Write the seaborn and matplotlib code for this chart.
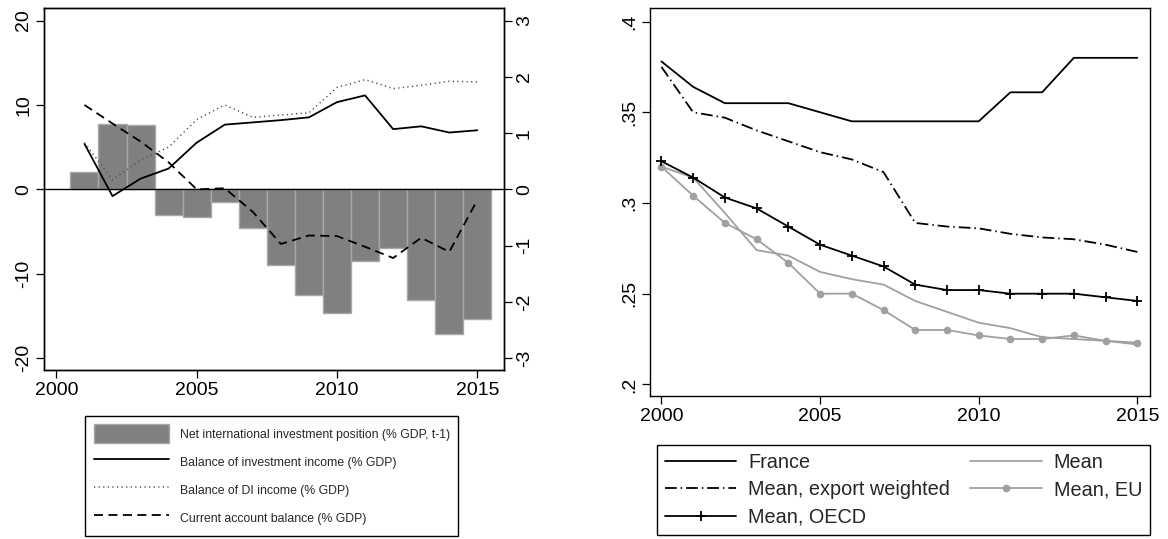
import matplotlib
matplotlib.use("Agg")
import matplotlib.pyplot as plt
from matplotlib.lines import Line2D
from matplotlib.patches import Patch
from matplotlib.ticker import FixedLocator, FixedFormatter
import seaborn as sns

# ---- data: external position panel (2001-2015) ----
years_ext = [2001, 2002, 2003, 2004, 2005, 2006, 2007, 2008,
             2009, 2010, 2011, 2012, 2013, 2014, 2015]
niip = [2.1, 7.8, 7.6, -3.0, -3.3, -1.5, -4.6, -9.0,
        -12.5, -14.6, -8.5, -6.9, -13.1, -17.1, -15.4]
inv_income = [0.81, -0.12, 0.19, 0.37, 0.83, 1.15, 1.19, 1.23,
              1.28, 1.55, 1.67, 1.07, 1.12, 1.01, 1.05]
di_income = [0.83, 0.17, 0.52, 0.75, 1.24, 1.50, 1.28, 1.32,
             1.36, 1.81, 1.95, 1.79, 1.85, 1.92, 1.91]
current_account = [1.50, 1.17, 0.85, 0.48, 0.00, 0.02, -0.40, -0.97,
                   -0.82, -0.83, -1.02, -1.22, -0.86, -1.11, -0.19]

left_ticks = [-20, -10, 0, 10, 20]
left_ticklabels = ["-20", "-10", "0", "10", "20"]
right_ticks = [-3, -2, -1, 0, 1, 2, 3]
right_ticklabels = ["-3", "-2", "-1", "0", "1", "2", "3"]

labels_ext = ["Net international investment position (% GDP, t-1)",
              "Balance of investment income (% GDP)",
              "Balance of DI income (% GDP)",
              "Current account balance (% GDP)"]

# ---- data: comparison panel (2000-2015) ----
years_cmp = list(range(2000, 2016))
france = [0.378, 0.364, 0.355, 0.355, 0.355, 0.350, 0.345, 0.345,
          0.345, 0.345, 0.345, 0.361, 0.361, 0.380, 0.380, 0.380]
mean_export_w = [0.375, 0.350, 0.347, 0.340, 0.334, 0.328, 0.324, 0.317,
                 0.289, 0.287, 0.286, 0.283, 0.281, 0.280, 0.277, 0.273]
mean_oecd = [0.323, 0.314, 0.303, 0.297, 0.287, 0.277, 0.271, 0.265,
             0.255, 0.252, 0.252, 0.250, 0.250, 0.250, 0.248, 0.246]
mean_all = [0.320, 0.314, 0.2945, 0.274, 0.271, 0.262, 0.258, 0.255,
            0.246, 0.240, 0.234, 0.231, 0.226, 0.225, 0.224, 0.222]
mean_eu = [0.320, 0.304, 0.289, 0.280, 0.267, 0.250, 0.250, 0.241,
           0.230, 0.230, 0.227, 0.225, 0.225, 0.227, 0.224, 0.223]

cmp_yticks = [0.2, 0.25, 0.3, 0.35, 0.4]
cmp_yticklabels = [".2", ".25", ".3", ".35", ".4"]
x_ticks = [2000, 2005, 2010, 2015]
x_ticklabels = ["2000", "2005", "2010", "2015"]

labels_cmp = ["France", "Mean, export weighted", "Mean, OECD",
              "Mean", "Mean, EU"]

# ---- style ----
sns.set_style("ticks")
plt.rcParams["font.family"] = ["Liberation Sans", "DejaVu Sans"]
plt.rcParams["axes.unicode_minus"] = False

BAR_FACE = "#808080"
BAR_EDGE = "#a8a8a8"
LIGHT = "#a0a0a0"
DOT_GREY = "#505050"
LW = 1.3
DASHED = (0, (5, 3))
DOTTED = (0, (0.8, 2.2))
DASHDOT = (0, (6.5, 2.2, 0.8, 2.2))
TICK_FS = 14
PLUS_KW = dict(marker="+", markersize=7, markeredgewidth=1.3,
               markeredgecolor="black")
DOT_KW = dict(marker="o", markersize=5.5, markeredgewidth=0,
              markerfacecolor=LIGHT)

W, H = 1168, 539
fig = plt.figure(figsize=(W / 100, H / 100), dpi=100)
ax1 = fig.add_axes([44.3 / W, 1 - 370 / H, 459.7 / W, 361.7 / H])
ax2 = fig.add_axes([650 / W, 1 - 396 / H, 500 / W, 387.7 / H])


def style_axis(ax):
    for sp in ax.spines.values():
        sp.set_visible(True)
        sp.set_color("black")
        sp.set_linewidth(1.0)
    ax.tick_params(direction="out", length=5.5, width=0.9, colors="black",
                   labelsize=TICK_FS, pad=3)
    ax.set_xlabel("")
    ax.set_ylabel("")


# ---- external position panel ----
sns.barplot(x=years_ext, y=niip, native_scale=True, width=1.0,
            color=BAR_FACE, saturation=1, edgecolor=BAR_EDGE, linewidth=1.0,
            errorbar=None, ax=ax1, zorder=2)
ax1.axhline(0, color="black", lw=1.0, zorder=3)
ax1.set_xlim(1999.57, 2015.95)
ax1.set_ylim(-21.4, 21.45)
ax1.xaxis.set_major_locator(FixedLocator(x_ticks))
ax1.xaxis.set_major_formatter(FixedFormatter(x_ticklabels))
ax1.yaxis.set_major_locator(FixedLocator(left_ticks))
ax1.yaxis.set_major_formatter(FixedFormatter(left_ticklabels))
style_axis(ax1)
plt.setp(ax1.get_yticklabels(), rotation=90, va="center")

ax1r = ax1.twinx()
sns.lineplot(x=years_ext, y=inv_income, ax=ax1r, color="black", lw=LW)
sns.lineplot(x=years_ext, y=di_income, ax=ax1r, color=DOT_GREY, lw=1.1,
             linestyle=DOTTED)
sns.lineplot(x=years_ext, y=current_account, ax=ax1r, color="black", lw=LW,
             linestyle=DASHED)
ax1r.set_ylim(-21.4 * 0.15, 21.45 * 0.15)
ax1r.yaxis.set_major_locator(FixedLocator(right_ticks))
ax1r.yaxis.set_major_formatter(FixedFormatter(right_ticklabels))
style_axis(ax1r)
plt.setp(ax1r.get_yticklabels(), rotation=90, va="center")

handles_ext = [
    Patch(facecolor=BAR_FACE, edgecolor=BAR_EDGE, linewidth=1.0),
    Line2D([], [], color="black", lw=LW),
    Line2D([], [], color=DOT_GREY, lw=1.1, linestyle=DOTTED),
    Line2D([], [], color="black", lw=LW, linestyle=DASHED),
]
leg1 = fig.legend(handles_ext, labels_ext, loc="upper left",
                  bbox_to_anchor=(85 / W, 1 - 415.7 / H),
                  bbox_transform=fig.transFigure,
                  fontsize=8.8, handlelength=6.15, handleheight=2.0,
                  handletextpad=0.9, borderpad=0.7, labelspacing=0.75,
                  borderaxespad=0, fancybox=False, framealpha=1,
                  edgecolor="black")
leg1.get_frame().set_linewidth(1.0)

# ---- comparison panel ----
sns.lineplot(x=years_cmp, y=mean_all, ax=ax2, color=LIGHT, lw=LW)
sns.lineplot(x=years_cmp, y=mean_eu, ax=ax2, color=LIGHT, lw=LW, **DOT_KW)
sns.lineplot(x=years_cmp, y=france, ax=ax2, color="black", lw=LW)
sns.lineplot(x=years_cmp, y=mean_export_w, ax=ax2, color="black", lw=LW,
             linestyle=DASHDOT)
sns.lineplot(x=years_cmp, y=mean_oecd, ax=ax2, color="black", lw=LW,
             **PLUS_KW)
ax2.set_xlim(1999.64, 2015.40)
ax2.set_ylim(0.1936, 0.4073)
ax2.xaxis.set_major_locator(FixedLocator(x_ticks))
ax2.xaxis.set_major_formatter(FixedFormatter(x_ticklabels))
ax2.yaxis.set_major_locator(FixedLocator(cmp_yticks))
ax2.yaxis.set_major_formatter(FixedFormatter(cmp_yticklabels))
style_axis(ax2)
plt.setp(ax2.get_yticklabels(), rotation=90, va="center")

handles_cmp = [
    Line2D([], [], color="black", lw=LW),
    Line2D([], [], color="black", lw=LW, linestyle=DASHDOT),
    Line2D([], [], color="black", lw=LW, **PLUS_KW),
    Line2D([], [], color=LIGHT, lw=LW),
    Line2D([], [], color=LIGHT, lw=LW, **DOT_KW),
]
leg2 = fig.legend(handles_cmp, labels_cmp, loc="upper left", ncol=2,
                  bbox_to_anchor=(657 / W, 1 - 445 / H),
                  bbox_transform=fig.transFigure,
                  fontsize=14.3, handlelength=3.6, handletextpad=0.6,
                  columnspacing=1.0, borderpad=0.4, labelspacing=0.42,
                  borderaxespad=0, fancybox=False, framealpha=1,
                  edgecolor="black")
leg2.get_frame().set_linewidth(1.0)

fig.savefig("out.png", dpi=100, facecolor="white")
